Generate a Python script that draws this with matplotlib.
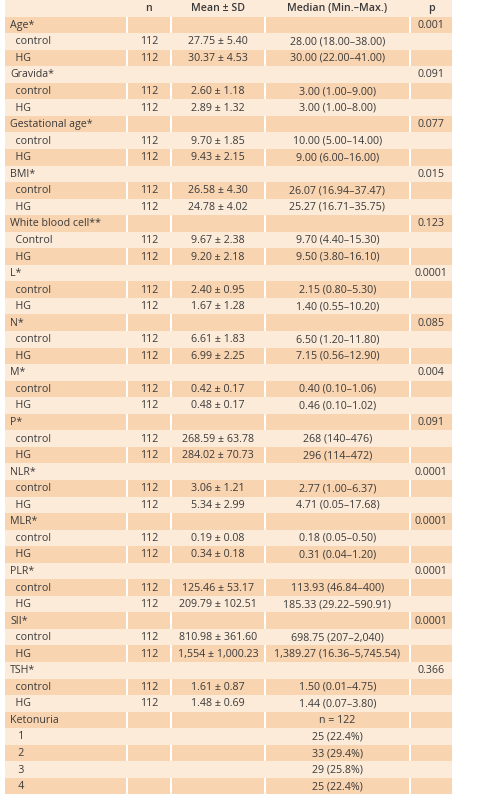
import matplotlib
matplotlib.use("Agg")
import matplotlib.pyplot as plt
from matplotlib.patches import Rectangle

headers = ["", "n", "Mean ± SD", "Median (Min.–Max.)", "p"]
groups = ["Age*", "Gravida*", "Gestational age*", "BMI*", "White blood cell**", "L*", "N*", "M*",
          "P*", "NLR*", "MLR*", "PLR*", "SII*", "TSH*"]
sub_labels = [("control", "HG")] * 4 + [("Control", "HG")] + [("control", "HG")] * 9
p_values = ["0.001", "0.091", "0.077", "0.015", "0.123", "0.0001", "0.085", "0.004", "0.091",
            "0.0001", "0.0001", "0.0001", "0.0001", "0.366"]
n_values = ["112", "112"]
means = [("27.75 ± 5.40", "30.37 ± 4.53"), ("2.60 ± 1.18", "2.89 ± 1.32"), ("9.70 ± 1.85", "9.43 ± 2.15"),
         ("26.58 ± 4.30", "24.78 ± 4.02"), ("9.67 ± 2.38", "9.20 ± 2.18"), ("2.40 ± 0.95", "1.67 ± 1.28"),
         ("6.61 ± 1.83", "6.99 ± 2.25"), ("0.42 ± 0.17", "0.48 ± 0.17"), ("268.59 ± 63.78", "284.02 ± 70.73"),
         ("3.06 ± 1.21", "5.34 ± 2.99"), ("0.19 ± 0.08", "0.34 ± 0.18"), ("125.46 ± 53.17", "209.79 ± 102.51"),
         ("810.98 ± 361.60", "1,554 ± 1,000.23"), ("1.61 ± 0.87", "1.48 ± 0.69")]
medians = [("28.00 (18.00–38.00)", "30.00 (22.00–41.00)"), ("3.00 (1.00–9.00)", "3.00 (1.00–8.00)"),
           ("10.00 (5.00–14.00)", "9.00 (6.00–16.00)"), ("26.07 (16.94–37.47)", "25.27 (16.71–35.75)"),
           ("9.70 (4.40–15.30)", "9.50 (3.80–16.10)"), ("2.15 (0.80–5.30)", "1.40 (0.55–10.20)"),
           ("6.50 (1.20–11.80)", "7.15 (0.56–12.90)"), ("0.40 (0.10–1.06)", "0.46 (0.10–1.02)"),
           ("268 (140–476)", "296 (114–472)"), ("2.77 (1.00–6.37)", "4.71 (0.05–17.68)"),
           ("0.18 (0.05–0.50)", "0.31 (0.04–1.20)"), ("113.93 (46.84–400)", "185.33 (29.22–590.91)"),
           ("698.75 (207–2,040)", "1,389.27 (16.36–5,745.54)"), ("1.50 (0.01–4.75)", "1.44 (0.07–3.80)")]
keto_label = "Ketonuria"
keto_total = "n = 122"
keto_levels = ["1", "2", "3", "4"]
keto_counts = ["25 (22.4%)", "33 (29.4%)", "29 (25.8%)", "25 (22.4%)"]

rows = [headers]
for i, g in enumerate(groups):
    rows.append([g, "", "", "", p_values[i]])
    for k in range(2):
        rows.append(["  " + sub_labels[i][k], n_values[k], means[i][k], medians[i][k], ""])
rows.append([keto_label, "", "", keto_total, ""])
for lv, c in zip(keto_levels, keto_counts):
    rows.append(["   " + lv, "", "", c, ""])

W, H = 479, 800
fig = plt.figure(figsize=(W / 100, H / 100), dpi=100)
ax = fig.add_axes([0, 0, 1, 1])
ax.set_xlim(0, W)
ax.set_ylim(H, 0)
ax.axis("off")

col_edges = [5, 127, 171, 265, 410, 452]
top, rh = 0, 16.55
light, dark = "#fdebd9", "#f9d4b0"
tc = "#3a3a3a"
fs = 7.7
for r, row in enumerate(rows):
    y0 = top + r * rh
    color = light if r % 2 == 0 else dark
    ax.add_patch(Rectangle((col_edges[0], y0), col_edges[-1] - col_edges[0], rh, color=color, lw=0))
    if r % 2 == 1:
        for e in col_edges[1:-1]:
            ax.add_patch(Rectangle((e - 1, y0), 2, rh, color="white", lw=0))
    yc = y0 + rh / 2 + 0.5
    for c, txt in enumerate(row):
        if not txt:
            continue
        weight = "semibold" if r == 0 else "normal"
        if c == 0:
            ax.text(col_edges[0] + 5, yc, txt, ha="left", va="center", fontsize=fs,
                    color=tc, family="Open Sans", weight=weight)
        else:
            xc = (col_edges[c] + col_edges[c + 1]) / 2
            ax.text(xc, yc, txt, ha="center", va="center", fontsize=fs,
                    color=tc, family="Open Sans", weight=weight)

fig.savefig("out.png", dpi=100, facecolor="white")
